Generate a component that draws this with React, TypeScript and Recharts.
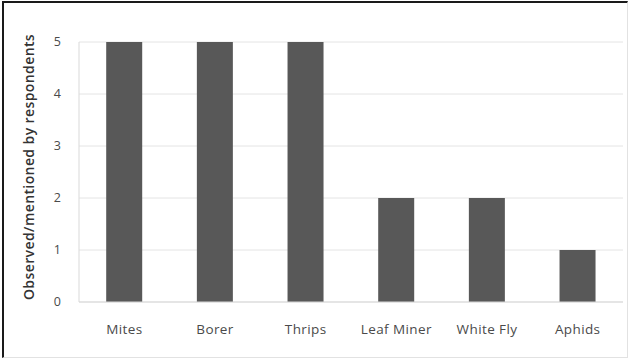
import { BarChart, Bar, XAxis, YAxis, CartesianGrid, Label } from 'recharts'

const PESTS = ['Mites', 'Borer', 'Thrips', 'Leaf Miner', 'White Fly', 'Aphids']
const RESPONDENTS = [5, 5, 5, 2, 2, 1]
const Y_TICKS = [0, 1, 2, 3, 4, 5]

const data = PESTS.map((pest, i) => ({ pest, count: RESPONDENTS[i] }))

const FONT = '"Open Sans", "Liberation Sans", sans-serif'

export default function App() {
  return (
    <div style={{ position: 'absolute', left: 0, top: 0, width: 630, height: 360, background: '#fff' }}>
      <BarChart
        width={630}
        height={360}
        data={data}
        margin={{ top: 42, right: 7, bottom: 28, left: 0 }}
        barCategoryGap="30%"
      >
        <CartesianGrid vertical={false} stroke="#e4e4e4" />
        <XAxis
          dataKey="pest"
          height={30}
          tickLine={false}
          axisLine={{ stroke: '#d9d9d9' }}
          tickMargin={16}
          interval={0}
          tick={{ fill: '#4a4a4a', fontSize: 13.5, fontFamily: FONT, letterSpacing: 0.4 }}
        />
        <YAxis
          width={79}
          domain={[0, 5]}
          ticks={Y_TICKS}
          tickLine={false}
          tickSize={0}
          tickMargin={18}
          axisLine={{ stroke: '#d9d9d9' }}
          tick={{ fill: '#4a4a4a', fontSize: 12.5, fontFamily: FONT }}
        >
          <Label
            content={() => (
              <text
                x={28}
                y={167}
                transform="rotate(-90 28 167)"
                textAnchor="middle"
                dominantBaseline="central"
                fill="#333"
                fontSize={14}
                fontWeight={600}
                fontFamily={FONT}
                letterSpacing={0.4}
              >
                Observed/mentioned by respondents
              </text>
            )}
          />
        </YAxis>
        <Bar dataKey="count" fill="#585858" isAnimationActive={false} />
      </BarChart>
      {/* frame: dark on top/left, faint on right/bottom */}
      <div
        style={{
          position: 'absolute',
          left: 2,
          top: 1,
          width: 626,
          height: 357,
          boxSizing: 'border-box',
          borderTop: '2px solid #1a1a1a',
          borderLeft: '2px solid #1a1a1a',
          borderRight: '1px solid #e2e2e2',
          borderBottom: '1px solid #e2e2e2',
          pointerEvents: 'none',
          zIndex: 1,
        }}
      />
    </div>
  )
}
